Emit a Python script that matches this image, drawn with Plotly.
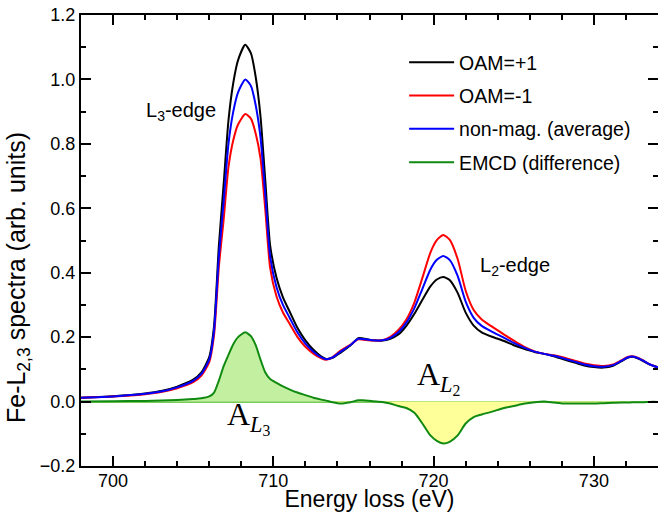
import plotly.graph_objects as go

# Energy loss (eV)
energy = [698, 700, 702, 703, 704, 705, 705.5, 706, 706.3, 706.6, 706.9, 707.2, 707.5, 707.8,
          708.25, 708.6, 708.9, 709.2, 709.5, 709.8, 710.2, 710.6, 711, 711.5, 712, 712.5, 713,
          713.3, 713.7, 714.2, 714.8, 715.3, 715.6, 716.2, 716.8, 717.3, 717.8, 718.3, 718.8,
          719.3, 719.8, 720.2, 720.6, 721.0, 721.5, 722.0, 722.5, 723.0, 723.6, 724.4, 725.0,
          725.6, 726.3, 726.9, 727.5, 728.1, 728.8, 729.4, 730.0, 730.6, 731.2, 731.7, 732.1,
          732.4, 732.8, 733.1, 733.5, 734]

oam_plus = [0.012, 0.0165, 0.025, 0.0325, 0.0465, 0.068, 0.090, 0.138, 0.234, 0.4825, 0.675, 0.8725,
            0.989, 1.06, 1.1075, 1.0815, 1.0075, 0.885, 0.685, 0.485, 0.384, 0.3235, 0.281, 0.229,
            0.19, 0.161, 0.140, 0.1325, 0.136, 0.152, 0.174, 0.197, 0.196, 0.1905, 0.1895, 0.195,
            0.208, 0.235, 0.2725, 0.316, 0.3575, 0.379, 0.387, 0.3775, 0.3375, 0.276, 0.236, 0.215,
            0.202, 0.188, 0.175, 0.1645, 0.154, 0.148, 0.1405, 0.131, 0.121, 0.112, 0.107, 0.1055,
            0.111, 0.1245, 0.1355, 0.139, 0.133, 0.125, 0.1145, 0.1055]

oam_minus = [0.012, 0.0155, 0.023, 0.0295, 0.0415, 0.060, 0.080, 0.122, 0.206, 0.4175, 0.565, 0.7275,
             0.811, 0.86, 0.8925, 0.8785, 0.8325, 0.755, 0.595, 0.415, 0.326, 0.2765, 0.243, 0.201,
             0.17, 0.149, 0.134, 0.1295, 0.138, 0.158, 0.176, 0.193, 0.192, 0.1895, 0.1905, 0.201,
             0.222, 0.255, 0.3075, 0.384, 0.4625, 0.501, 0.517, 0.5025, 0.4425, 0.344, 0.284, 0.255,
             0.234, 0.208, 0.189, 0.1715, 0.156, 0.148, 0.1435, 0.137, 0.127, 0.118, 0.113, 0.1105,
             0.115, 0.1275, 0.1385, 0.141, 0.135, 0.127, 0.1155, 0.1065]

average = [0.012, 0.016, 0.024, 0.031, 0.044, 0.064, 0.085, 0.13, 0.22, 0.45, 0.62, 0.80, 0.90, 0.96,
           1.00, 0.98, 0.92, 0.82, 0.64, 0.45, 0.355, 0.30, 0.262, 0.215, 0.18, 0.155, 0.137, 0.131,
           0.137, 0.155, 0.175, 0.195, 0.194, 0.19, 0.19, 0.198, 0.215, 0.245, 0.29, 0.35, 0.41,
           0.44, 0.452, 0.44, 0.39, 0.31, 0.26, 0.235, 0.218, 0.198, 0.182, 0.168, 0.155, 0.148,
           0.142, 0.134, 0.124, 0.115, 0.11, 0.108, 0.113, 0.126, 0.137, 0.14, 0.134, 0.126, 0.115,
           0.106]

emcd = [0.0, 0.001, 0.002, 0.003, 0.005, 0.008, 0.010, 0.016, 0.028, 0.065, 0.11, 0.145, 0.178, 0.20,
        0.215, 0.203, 0.175, 0.13, 0.09, 0.07, 0.058, 0.047, 0.038, 0.028, 0.020, 0.012, 0.006, 0.003,
        -0.002, -0.006, -0.002, 0.004, 0.004, 0.001, -0.001, -0.006, -0.014, -0.02, -0.035, -0.068,
        -0.105, -0.122, -0.13, -0.125, -0.105, -0.068, -0.048, -0.04, -0.032, -0.02, -0.014, -0.007,
        -0.002, 0.0, -0.003, -0.006, -0.006, -0.006, -0.006, -0.005, -0.004, -0.003, -0.003, -0.002,
        -0.002, -0.002, -0.001, -0.001]

series_names = ["OAM=+1", "OAM=-1", "non-mag. (average)", "EMCD (difference)"]
series_colors = ["#000000", "#ff0000", "#0000ff", "#108a10"]

x_ticks = [700, 710, 720, 730]
y_ticks = [-0.2, 0.0, 0.2, 0.4, 0.6, 0.8, 1.0, 1.2]

FONT = "Liberation Sans, Arial, Helvetica, sans-serif"

emcd_pos = [v if v > 0 else 0 for v in emcd]
emcd_neg = [v if v < 0 else 0 for v in emcd]

fig = go.Figure()
fig.add_trace(go.Scatter(x=energy, y=emcd_pos, mode="lines", line=dict(width=0, shape="spline"),
                         fill="tozeroy", fillcolor="#c2f0a0", showlegend=False, hoverinfo="skip"))
fig.add_trace(go.Scatter(x=energy, y=emcd_neg, mode="lines", line=dict(width=0, shape="spline"),
                         fill="tozeroy", fillcolor="#ffff99", showlegend=False, hoverinfo="skip"))

for i, ys in enumerate([oam_plus, oam_minus, average, emcd]):
    fig.add_trace(go.Scatter(x=energy, y=ys, mode="lines", name=series_names[i],
                             legendgroup=f"g{i}",
                             line=dict(color=series_colors[i], width=2, shape="spline", smoothing=0.6)))

axis_common = dict(showline=True, linecolor="black", linewidth=2, mirror="allticks",
                   ticks="inside", ticklen=10, tickwidth=1.5, tickcolor="black",
                   showgrid=False, automargin=False, tickmode="array",
                   tickfont=dict(family=FONT, size=18, color="black"))

fig.update_xaxes(range=[698, 734], tickvals=x_ticks, **axis_common,
                 ticklabelstandoff=-3,
                 minor=dict(dtick=2, ticks="inside", ticklen=5, tickwidth=1.5, tickcolor="black"),
                 title=dict(text="Energy loss (eV)", font=dict(family=FONT, size=23, color="black"),
                            standoff=12),
                 zeroline=False)
fig.update_yaxes(range=[-0.2, 1.2], tickvals=y_ticks, tickformat=".1f", **axis_common,
                 minor=dict(dtick=0.1, ticks="inside", ticklen=5, tickwidth=1.5, tickcolor="black"),
                 zeroline=True, zerolinecolor="#7acc5a", zerolinewidth=2)

# y-axis title (placed as rotated text, offset like in the original figure)
fig.add_annotation(xref="paper", yref="paper", x=-0.109, y=0.417, textangle=-90,
                   text="Fe-L<sub>2,3</sub> spectra (arb. units)", showarrow=False,
                   xanchor="center", yanchor="middle",
                   font=dict(family=FONT, size=25, color="black"))

annot_font = dict(family=FONT, size=20, color="black")
serif_font = dict(family="Liberation Serif, DejaVu Serif, serif", size=32, color="black")
fig.add_annotation(x=701.9, y=0.90, text="L<sub>3</sub>-edge", showarrow=False,
                   xanchor="left", yanchor="middle", font=annot_font)
fig.add_annotation(x=722.75, y=0.42, text="L<sub>2</sub>-edge", showarrow=False,
                   xanchor="left", yanchor="middle", font=annot_font)
fig.add_annotation(x=707.0, y=-0.05, text="A<sub><i>L</i><sub>3</sub></sub>", showarrow=False,
                   xanchor="left", yanchor="middle", font=serif_font)
fig.add_annotation(x=718.85, y=0.075, text="A<sub><i>L</i><sub>2</sub></sub>", showarrow=False,
                   xanchor="left", yanchor="middle", font=serif_font)

fig.update_layout(
    width=658, height=512,
    margin=dict(l=81, r=0, t=15, b=46),
    plot_bgcolor="white", paper_bgcolor="white",
    font=dict(family=FONT, color="black"),
    legend=dict(x=0.56, y=0.938, xanchor="left", yanchor="top", traceorder="grouped",
                tracegroupgap=5, itemwidth=45, bgcolor="rgba(0,0,0,0)",
                font=dict(family=FONT, size=19.5, color="black")),
)

fig.write_html("out.html", config={"displayModeBar": False},
               post_script="document.body.style.margin='0px';")
